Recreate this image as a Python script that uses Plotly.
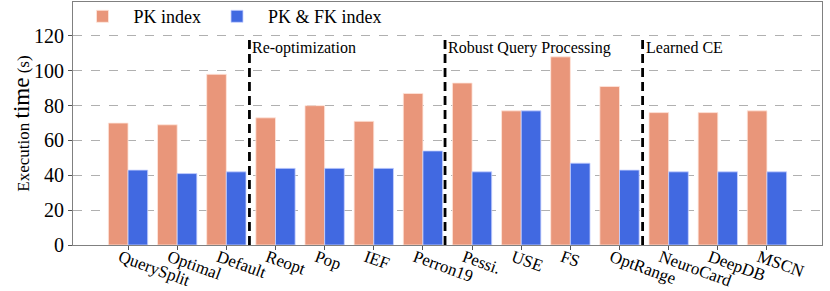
import plotly.graph_objects as go

categories = ["QuerySplit", "Optimal", "Default", "Reopt", "Pop", "IEF", "Perron19",
              "Pessi.", "USE", "FS", "OptRange", "NeuroCard", "DeepDB", "MSCN"]
pk_index = [70, 69, 98, 73, 80, 71, 87, 93, 77, 108, 91, 76, 76, 77]
pk_fk_index = [43, 41, 42, 44, 44, 44, 54, 42, 77, 47, 43, 42, 42, 42]
group_labels = ["Re-optimization", "Robust Query Processing", "Learned CE"]
group_dividers = [2.47, 6.45, 10.47]
y_ticks = [0, 20, 40, 60, 80, 100, 120]

FONT = "Liberation Serif, Times New Roman, serif"
x = list(range(len(categories)))

fig = go.Figure()
fig.add_trace(go.Bar(x=x, y=pk_index, name="PK index",
                     marker=dict(color="#E9967A", line=dict(color="rgba(255,230,220,0.8)", width=1))))
fig.add_trace(go.Bar(x=x, y=pk_fk_index, name="PK & FK index",
                     marker=dict(color="#4169E1", line=dict(color="rgba(200,210,255,0.8)", width=1))))

for xd, lab in zip(group_dividers, group_labels):
    fig.add_shape(type="line", x0=xd, x1=xd, y0=0, y1=120, xref="x", yref="y",
                  line=dict(color="black", width=2.8, dash="9px,5px"), layer="above")
    fig.add_annotation(x=xd, y=120, xref="x", yref="y", text=lab, showarrow=False,
                       xanchor="left", yanchor="top", xshift=1, yshift=-1,
                       font=dict(family=FONT, size=16, color="black"))

fig.update_layout(
    width=830, height=291,
    margin=dict(l=73, r=8, t=2, b=46, autoexpand=False),
    paper_bgcolor="white", plot_bgcolor="white",
    barmode="group", bargap=0.2, bargroupgap=0,
    font=dict(family=FONT, color="black"),
    showlegend=True,
    legend=dict(orientation="h", x=-0.002, y=1.016, xanchor="left", yanchor="top",
                font=dict(family=FONT, size=18, color="black"),
                bgcolor="rgba(255,255,255,0)", itemwidth=52, traceorder="normal"),
)
fig.update_xaxes(
    range=[-1.12, 14.12], tickmode="array", tickvals=x, ticktext=categories,
    tickangle=20, tickfont=dict(family=FONT, size=17, color="black"),
    automargin=False, ticklabelstandoff=-9, ticklabelshift=-8,
    showline=True, linecolor="#808080", linewidth=1, mirror=True,
    ticks="outside", ticklen=4, tickcolor="#555555", showgrid=False, zeroline=False,
)
fig.update_yaxes(
    range=[0, 139.5], tickmode="array", tickvals=y_ticks,
    tickfont=dict(family=FONT, size=20, color="black"),
    automargin=False,
    showline=True, linecolor="#808080", linewidth=1, mirror=True,
    ticks="outside", ticklen=4, tickcolor="#555555",
    showgrid=True, gridcolor="#b0b0b0", griddash="dash", gridwidth=1, zeroline=False,
    title=dict(text="<span style='font-size:17px'>Execution </span><span style='font-size:23px'>time</span><span style='font-size:17px'> (s)</span>",
               font=dict(family=FONT, size=17, color="black"), standoff=0),
)

fig.write_html("out.html", config={"displayModeBar": False, "staticPlot": True},
               post_script="document.body.style.margin='0px';"
                           "document.body.style.overflow='hidden';"
                           "document.documentElement.style.overflow='hidden';")
